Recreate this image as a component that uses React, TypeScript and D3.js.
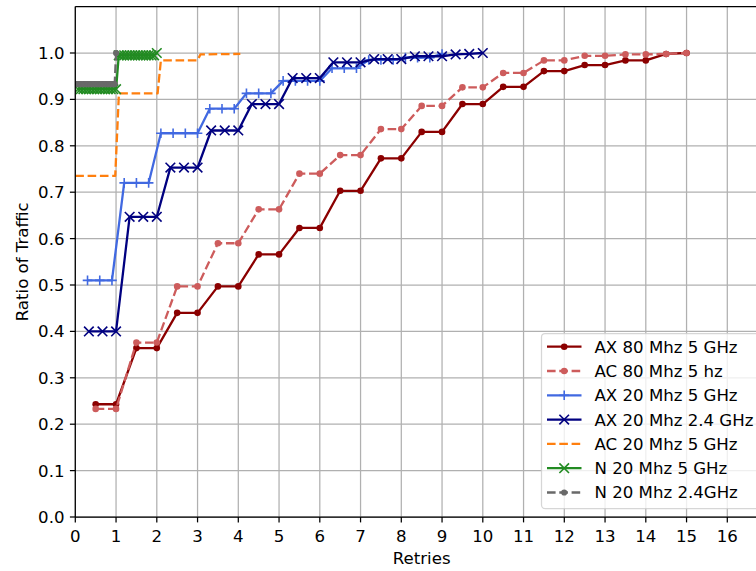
import React from 'react';
import * as d3 from 'd3';

const W = 756;
const H = 571;

// ---- data ----
const xTicks = [0, 1, 2, 3, 4, 5, 6, 7, 8, 9, 10, 11, 12, 13, 14, 15, 16];
const yTicks = [0.0, 0.1, 0.2, 0.3, 0.4, 0.5, 0.6, 0.7, 0.8, 0.9, 1.0];
const yTickLabels = ['0.0', '0.1', '0.2', '0.3', '0.4', '0.5', '0.6', '0.7', '0.8', '0.9', '1.0'];

const ax80X = [0.5, 1, 1.5, 2, 2.5, 3, 3.5, 4, 4.5, 5, 5.5, 6, 6.5, 7, 7.5, 8, 8.5, 9, 9.5, 10, 10.5, 11, 11.5, 12, 12.5, 13, 13.5, 14, 14.5, 15];
const ax80Y = [0.243, 0.243, 0.364, 0.364, 0.44, 0.44, 0.497, 0.497, 0.566, 0.566, 0.623, 0.623, 0.703, 0.703, 0.773, 0.773, 0.83, 0.83, 0.89, 0.89, 0.927, 0.927, 0.961, 0.961, 0.974, 0.974, 0.984, 0.984, 0.998, 1.0];

const ac80X = [0.5, 1, 1.5, 2, 2.5, 3, 3.5, 4, 4.5, 5, 5.5, 6, 6.5, 7, 7.5, 8, 8.5, 9, 9.5, 10, 10.5, 11, 11.5, 12, 12.5, 13, 13.5, 14, 14.5, 15];
const ac80Y = [0.233, 0.233, 0.376, 0.376, 0.497, 0.497, 0.59, 0.59, 0.663, 0.663, 0.74, 0.74, 0.78, 0.78, 0.836, 0.836, 0.886, 0.886, 0.926, 0.926, 0.957, 0.957, 0.984, 0.984, 0.994, 0.994, 0.997, 0.997, 0.998, 1.0];

const ax20g5X = [0.3, 0.6, 0.9, 1.2, 1.5, 1.8, 2.1, 2.4, 2.7, 3.0, 3.3, 3.6, 3.9, 4.2, 4.5, 4.8, 5.1, 5.4, 5.7, 6.0, 6.3, 6.6, 6.9, 7.2, 7.5, 7.8, 8.1, 8.4, 8.7, 9.0];
const ax20g5Y = [0.51, 0.51, 0.51, 0.72, 0.72, 0.72, 0.827, 0.827, 0.827, 0.827, 0.88, 0.88, 0.88, 0.913, 0.913, 0.913, 0.94, 0.94, 0.94, 0.94, 0.967, 0.967, 0.967, 0.985, 0.985, 0.985, 0.99, 0.99, 0.99, 0.998];

const ax20g24X = [0.333, 0.667, 1, 1.333, 1.667, 2, 2.333, 2.667, 3, 3.333, 3.667, 4, 4.333, 4.667, 5, 5.333, 5.667, 6, 6.333, 6.667, 7, 7.333, 7.667, 8, 8.333, 8.667, 9, 9.333, 9.667, 10];
const ax20g24Y = [0.4, 0.4, 0.4, 0.647, 0.647, 0.647, 0.753, 0.753, 0.753, 0.833, 0.833, 0.833, 0.89, 0.89, 0.89, 0.946, 0.946, 0.946, 0.98, 0.98, 0.98, 0.987, 0.987, 0.987, 0.993, 0.993, 0.993, 0.997, 0.998, 1.0];

const ac20X = [0, 0.98, 1.07, 2.02, 2.1, 3.0, 3.07, 4.05];
const ac20Y = [0.735, 0.735, 0.913, 0.913, 0.984, 0.984, 0.997, 0.998];

const n20g5X = [0.067, 0.133, 0.2, 0.267, 0.333, 0.4, 0.467, 0.533, 0.6, 0.667, 0.733, 0.8, 0.867, 0.933, 1.0, 1.067, 1.133, 1.2, 1.267, 1.333, 1.4, 1.467, 1.533, 1.6, 1.667, 1.733, 1.8, 1.867, 1.933, 2.0];
const n20g5Y = [0.922, 0.922, 0.922, 0.922, 0.922, 0.922, 0.922, 0.922, 0.922, 0.922, 0.922, 0.922, 0.922, 0.922, 0.922, 0.995, 0.995, 0.995, 0.995, 0.995, 0.995, 0.995, 0.995, 0.995, 0.995, 0.995, 0.995, 0.995, 0.995, 1.0];

const n20g24X = [0.033, 0.067, 0.1, 0.133, 0.167, 0.2, 0.233, 0.267, 0.3, 0.333, 0.367, 0.4, 0.433, 0.467, 0.5, 0.533, 0.567, 0.6, 0.633, 0.667, 0.7, 0.733, 0.767, 0.8, 0.833, 0.867, 0.9, 0.933, 0.967, 1.0];
const n20g24Y = [0.933, 0.933, 0.933, 0.933, 0.933, 0.933, 0.933, 0.933, 0.933, 0.933, 0.933, 0.933, 0.933, 0.933, 0.933, 0.933, 0.933, 0.933, 0.933, 0.933, 0.933, 0.933, 0.933, 0.933, 0.933, 0.933, 0.933, 0.933, 0.933, 1.0];

const seriesNames = ['AX 80 Mhz 5 GHz', 'AC 80 Mhz 5 hz', 'AX 20 Mhz 5 GHz', 'AX 20 Mhz 2.4 GHz', 'AC 20 Mhz 5 GHz', 'N 20 Mhz 5 GHz', 'N 20 Mhz 2.4GHz'];

type Marker = 'dot' | 'plus' | 'x' | 'none';
interface Series { name: string; xs: number[]; ys: number[]; color: string; dashed: boolean; marker: Marker; r?: number; }

const series: Series[] = [
  { name: seriesNames[0], xs: ax80X, ys: ax80Y, color: '#8b0000', dashed: false, marker: 'dot', r: 3.3 },
  { name: seriesNames[1], xs: ac80X, ys: ac80Y, color: '#cd5c5c', dashed: true, marker: 'dot', r: 3.3 },
  { name: seriesNames[2], xs: ax20g5X, ys: ax20g5Y, color: '#4169e1', dashed: false, marker: 'plus' },
  { name: seriesNames[3], xs: ax20g24X, ys: ax20g24Y, color: '#000080', dashed: false, marker: 'x' },
  { name: seriesNames[4], xs: ac20X, ys: ac20Y, color: '#ff7f0e', dashed: true, marker: 'none' },
  { name: seriesNames[5], xs: n20g5X, ys: n20g5Y, color: '#228b22', dashed: false, marker: 'x' },
  { name: seriesNames[6], xs: n20g24X, ys: n20g24Y, color: '#696969', dashed: true, marker: 'dot', r: 3.1 },
];

// ---- layout ----
const left = 75.3;
const bottom = 517;
const pxPerX = 40.75;
const xMax = 17;
const right = left + xMax * pxPerX;

const FONT = 'DejaVu Sans, sans-serif';
const FS = 16.6;
const LW = 2.3;
const MS = 4.8;
const MEW = 1.6;
const DASH = '8.6,3.7';

function MarkerShape({ m, cx, cy, color, r }: { m: Marker; cx: number; cy: number; color: string; r?: number }) {
  if (m === 'dot') return <circle cx={cx} cy={cy} r={r ?? 3.2} fill={color} />;
  if (m === 'plus')
    return (
      <g stroke={color} strokeWidth={MEW}>
        <line x1={cx - MS} y1={cy} x2={cx + MS} y2={cy} />
        <line x1={cx} y1={cy - MS} x2={cx} y2={cy + MS} />
      </g>
    );
  if (m === 'x')
    return (
      <g stroke={color} strokeWidth={MEW}>
        <line x1={cx - MS} y1={cy - MS} x2={cx + MS} y2={cy + MS} />
        <line x1={cx - MS} y1={cy + MS} x2={cx + MS} y2={cy - MS} />
      </g>
    );
  return null;
}

export default function App() {
  const x = d3.scaleLinear().domain([0, xMax]).range([left, right]);
  const y = d3.scaleLinear().domain([0, 1.1]).range([bottom, bottom - 1.1 * 464]);

  const line = d3.line<[number, number]>().x((d) => x(d[0])).y((d) => y(d[1]));

  const legX = 541.5;
  const legY = 333.5;
  const rowH = 24.3;

  return (
    <svg width={W} height={H} style={{ position: 'absolute', left: 0, top: 0 }} fontFamily={FONT}>
      <rect x={0} y={0} width={W} height={H} fill="#ffffff" />
      <defs>
        <clipPath id="plotclip">
          <rect x={left} y={y(1.1)} width={right - left} height={bottom - y(1.1)} />
        </clipPath>
      </defs>
      {/* grid */}
      <g stroke="#b0b0b0" strokeWidth={1.25}>
        {xTicks.map((t) => (
          <line key={'gx' + t} x1={x(t)} x2={x(t)} y1={y(1.1)} y2={bottom} />
        ))}
        {yTicks.map((t) => (
          <line key={'gy' + t} x1={left} x2={right} y1={y(t)} y2={y(t)} />
        ))}
      </g>
      {/* series */}
      <g clipPath="url(#plotclip)">
        {series.map((s, si) => {
          const pts: [number, number][] = s.xs.map((xv, i) => [xv, s.ys[i]]);
          return (
            <g key={'s' + si}>
              <path d={line(pts) ?? ''} fill="none" stroke={s.color} strokeWidth={LW} strokeDasharray={s.dashed ? DASH : undefined} strokeLinejoin="round" />
              {s.marker !== 'none' && pts.map((p, i) => <MarkerShape key={i} m={s.marker} cx={x(p[0])} cy={y(p[1])} color={s.color} r={s.r} />)}
            </g>
          );
        })}
      </g>
      {/* spines */}
      <g stroke="#000" strokeWidth={1.25} fill="none">
        <line x1={left} x2={left} y1={y(1.1)} y2={bottom} />
        <line x1={left} x2={right} y1={bottom} y2={bottom} />
        <line x1={left} x2={right} y1={y(1.1)} y2={y(1.1)} />
        <line x1={right} x2={right} y1={y(1.1)} y2={bottom} />
      </g>
      {/* ticks */}
      <g stroke="#000" strokeWidth={1.25}>
        {xTicks.map((t) => (
          <line key={'tx' + t} x1={x(t)} x2={x(t)} y1={bottom} y2={bottom + 5.4} />
        ))}
        {yTicks.map((t) => (
          <line key={'ty' + t} x1={left - 5.4} x2={left} y1={y(t)} y2={y(t)} />
        ))}
      </g>
      <g fontSize={FS} fill="#000">
        {xTicks.map((t) => (
          <text key={'lx' + t} x={x(t)} y={542} textAnchor="middle">{String(t)}</text>
        ))}
        {yTicks.map((t, i) => (
          <text key={'ly' + t} x={left - 10.8} y={y(t)} dy="0.36em" textAnchor="end">{yTickLabels[i]}</text>
        ))}
      </g>
      <text x={(left + right) / 2} y={564} textAnchor="middle" fontSize={FS}>Retries</text>
      <text transform={`translate(27.5, ${(bottom + y(1.1)) / 2}) rotate(-90)`} textAnchor="middle" fontSize={FS}>Ratio of Traffic</text>
      {/* legend */}
      <g>
        <rect x={legX} y={legY} width={240} height={175} rx={3.5} fill="#ffffff" fillOpacity={0.8} stroke="#cccccc" strokeOpacity={0.8} strokeWidth={1.25} />
        {series.map((s, i) => {
          const cy = legY + 13.2 + i * rowH;
          return (
            <g key={'leg' + i}>
              <line x1={547} x2={581.5} y1={cy} y2={cy} stroke={s.color} strokeWidth={LW} strokeDasharray={s.dashed ? DASH : undefined} />
              {s.marker !== 'none' && <MarkerShape m={s.marker} cx={564.2} cy={cy} color={s.color} r={s.r} />}
              <text x={594.5} y={cy} dy="0.36em" fontSize={FS}>{s.name}</text>
            </g>
          );
        })}
      </g>
    </svg>
  );
}
